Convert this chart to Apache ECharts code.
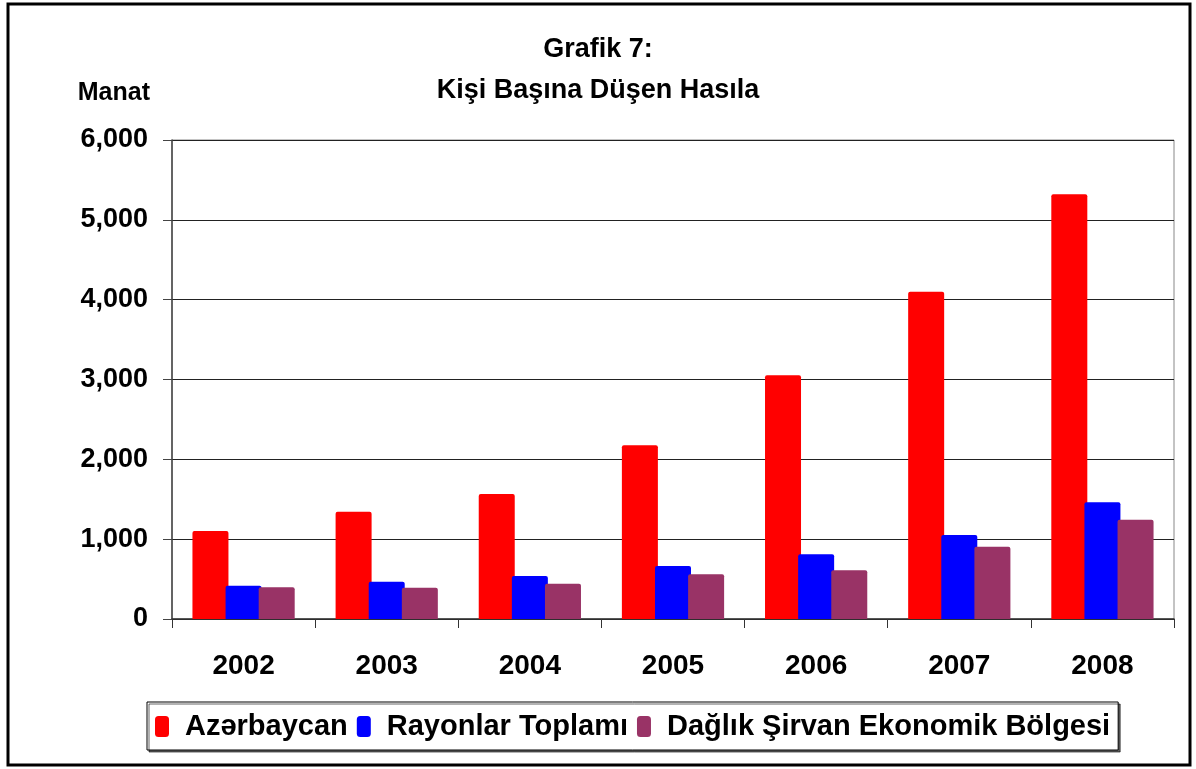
<!DOCTYPE html>
<html>
<head>
<meta charset="utf-8">
<script src="https://cdn.jsdelivr.net/npm/echarts@6/dist/echarts.min.js"></script>
<style>
  html, body { margin: 0; padding: 0; background: #fff; }
  #chart { width: 1196px; height: 769px; }
</style>
</head>
<body>
<div id="chart"></div>
<script>
// years on the x axis
const years = ["2002", "2003", "2004", "2005", "2006", "2007", "2008"];

// per capita output, manat
const azerbaijan = [1102, 1344, 1566, 2176, 3053, 4100, 5320];
const regionsTotal = [417, 467, 539, 664, 810, 1052, 1462];
const daglikShirvan = [397, 392, 442, 560, 610, 906, 1244];

const seriesNames = ["Azərbaycan", "Rayonlar Toplamı", "Dağlık Şirvan Ekonomik Bölgesi"];
const seriesColors = ["#FF0000", "#0000FF", "#993366"];

const font = "Liberation Sans, Arial, sans-serif";

var chart = echarts.init(document.getElementById("chart"));

function barSeries(name, data, color) {
  return {
    name: name,
    type: "bar",
    data: data,
    barWidth: 36,
    barGap: "-8%",
    itemStyle: { color: color, borderRadius: [2, 2, 0, 0] },
  };
}

var options = {
  animation: false,
  backgroundColor: "#fff",
  textStyle: { fontFamily: font },
  title: {
    text: "Grafik 7:\nKişi Başına Düşen Hasıla",
    left: "center",
    top: 29,
    padding: [0, 0, 0, 10],
    textStyle: {
      fontFamily: font,
      fontSize: 27,
      fontWeight: "bold",
      color: "#000",
      lineHeight: 41,
    },
  },
  legend: {
    left: 147,
    top: 702,
    data: seriesNames,
    itemWidth: 14,
    itemHeight: 21,
    itemGap: 9,
    padding: [10, 8, 9, 8],
    backgroundColor: "#fff",
    borderColor: "#000",
    borderWidth: 1,
    shadowColor: "rgba(0,0,0,0.6)",
    shadowOffsetX: 2,
    shadowOffsetY: 2,
    icon: "roundRect",
    textStyle: {
      fontFamily: font,
      fontSize: 29,
      fontWeight: "bold",
      color: "#000",
      padding: [0, 0, 0, 11],
    },
  },
  grid: {
    left: 172,
    right: 22,
    top: 140,
    bottom: 150,
    show: true,
    borderColor: "#888",
    borderWidth: 1,
  },
  xAxis: {
    type: "category",
    data: years,
    axisLine: { lineStyle: { color: "#333", width: 1.5 } },
    axisTick: { show: true, length: 9, lineStyle: { color: "#333" } },
    axisLabel: {
      margin: 33,
      fontFamily: font,
      fontSize: 28,
      fontWeight: "bold",
      color: "#000",
    },
  },
  yAxis: {
    type: "value",
    min: 0,
    max: 6000,
    interval: 1000,
    name: "Manat",
    nameLocation: "end",
    nameGap: 34,
    nameTextStyle: {
      fontFamily: font,
      fontSize: 25,
      fontWeight: "bold",
      color: "#000",
      align: "right",
      padding: [0, 22, 0, 0],
    },
    axisLine: { show: true, lineStyle: { color: "#444", width: 1.5 } },
    axisTick: { show: true, length: 9, lineStyle: { color: "#444" } },
    splitLine: { lineStyle: { color: "#222", width: 1 } },
    axisLabel: {
      margin: 24,
      fontFamily: font,
      fontSize: 27,
      fontWeight: "bold",
      color: "#000",
      formatter: function (val) {
        return val.toLocaleString("en-US");
      },
    },
  },
  series: [
    barSeries(seriesNames[0], azerbaijan, seriesColors[0]),
    barSeries(seriesNames[1], regionsTotal, seriesColors[1]),
    barSeries(seriesNames[2], daglikShirvan, seriesColors[2]),
  ],
  // outer frame of the picture
  graphic: [
    {
      type: "rect",
      silent: true,
      shape: { x: 8, y: 4, width: 1182, height: 761 },
      style: { fill: "none", stroke: "#000", lineWidth: 3 },
    },
  ],
};

chart.setOption(options);
</script>
</body>
</html>
